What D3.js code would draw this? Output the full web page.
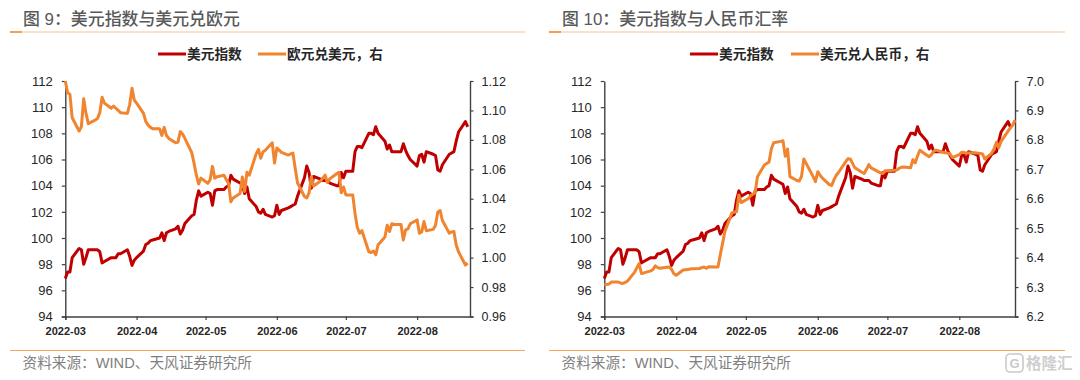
<!DOCTYPE html>
<html>
<head>
<meta charset="utf-8">
<script src="https://cdn.jsdelivr.net/npm/d3@7"></script>
<style>
  html, body { margin: 0; padding: 0; background: #fff; }
  svg { display: block; }
  text { font-family: "Liberation Sans", "Noto Sans CJK SC", sans-serif; }
</style>
</head>
<body>
<svg id="chart-area" width="1080" height="380"></svg>
<script>
// weekdays per month, chart data starts 2022-03-01
const marDays = ["03-01","03-02","03-03","03-04","03-07","03-08","03-09","03-10","03-11","03-14","03-15","03-16","03-17","03-18","03-21","03-22","03-23","03-24","03-25","03-28","03-29","03-30","03-31"]
const aprDays = ["04-01","04-04","04-05","04-06","04-07","04-08","04-11","04-12","04-13","04-14","04-15","04-18","04-19","04-20","04-21","04-22","04-25","04-26","04-27","04-28","04-29"]
const mayDays = ["05-02","05-03","05-04","05-05","05-06","05-09","05-10","05-11","05-12","05-13","05-16","05-17","05-18","05-19","05-20","05-23","05-24","05-25","05-26","05-27","05-30","05-31"]
const junDays = ["06-01","06-02","06-03","06-06","06-07","06-08","06-09","06-10","06-13","06-14","06-15","06-16","06-17","06-20","06-21","06-22","06-23","06-24","06-27","06-28","06-29","06-30"]
const julDays = ["07-01","07-04","07-05","07-06","07-07","07-08","07-11","07-12","07-13","07-14","07-15","07-18","07-19","07-20","07-21","07-22","07-25","07-26","07-27","07-28","07-29"]
const augDays = ["08-01","08-02","08-03","08-04","08-05","08-08","08-09","08-10","08-11","08-12","08-15","08-16","08-17","08-18","08-19","08-22","08-23","08-24","08-25"]
const tradeDays = [...marDays, ...aprDays, ...mayDays, ...junDays, ...julDays, ...augDays]

const dollarIndex = [
  96.9,97.4,97.4,98.5,99.2,99.1,98.0,98.5,99.1,99.1,99.1,98.95,98.1,98.2,98.5,98.5,98.5,98.8,98.8,99.1,98.6,97.9,98.3,
  98.5,99.0,99.5,99.6,99.8,99.85,100.0,100.4,99.8,100.4,100.5,100.7,100.9,100.3,100.6,101.1,101.7,101.8,102.9,103.6,103.2,
  103.5,103.4,102.5,103.6,103.7,103.7,103.9,104.0,104.8,104.5,104.2,104.1,103.4,103.9,103.0,102.4,102.0,101.9,102.2,101.8,101.6,101.7,
  102.5,101.8,102.1,102.3,102.4,102.5,102.6,103.2,104.6,105.5,105.0,103.8,104.7,104.5,104.4,104.4,104.4,104.2,104.0,104.0,105.0,104.6,
  105.1,105.1,106.6,107.0,107.0,106.9,108.0,108.0,107.9,108.5,108.0,107.4,106.8,107.1,106.6,106.6,106.6,107.2,106.7,106.3,106.0,
  105.5,106.3,106.4,105.8,106.6,106.4,106.3,105.2,105.1,105.6,106.4,106.5,106.6,107.4,108.1,108.9,108.5
]

const eurUsd = [
  1.12,1.112,1.111,1.095,1.086,1.089,1.108,1.098,1.091,1.0935,1.0945,1.0985,1.109,1.105,1.1015,1.103,1.1015,1.1,1.0985,1.098,1.104,1.115,1.107,
  1.105,1.098,1.0925,1.09,1.0885,1.0875,1.0875,1.083,1.0885,1.083,1.081,1.078,1.0785,1.0856,1.084,1.081,1.0713,1.064,1.056,1.05,1.054,
  1.0505,1.053,1.062,1.054,1.055,1.056,1.053,1.0505,1.038,1.0405,1.0435,1.0548,1.045,1.058,1.056,1.0705,1.0735,1.0675,1.072,1.073,1.078,1.0643,
  1.0745,1.073,1.0715,1.0697,1.0705,1.071,1.0605,1.0507,1.0415,1.0405,1.044,1.055,1.0487,1.052,1.054,1.056,1.051,1.0535,1.057,1.058,1.044,1.048,
  1.0426,1.0426,1.03,1.0205,1.0166,1.0183,1.004,1.0035,1.0045,1.0019,1.0086,1.014,1.022,1.0177,1.023,1.0225,1.0225,1.012,1.0188,1.0195,1.023,
  1.0256,1.0166,1.0175,1.0245,1.0183,1.0192,1.022,1.031,1.032,1.0252,1.0166,1.0175,1.0177,1.0086,1.004,0.995,0.9962
]

const usdCny = [
  6.309,6.309,6.31,6.317,6.317,6.314,6.312,6.316,6.32,6.35,6.365,6.38,6.346,6.348,6.355,6.36,6.372,6.366,6.364,6.367,6.368,6.36,6.345,
  6.34,6.358,6.359,6.36,6.361,6.362,6.363,6.366,6.368,6.364,6.369,6.368,6.368,6.41,6.45,6.49,6.552,6.555,6.556,6.613,6.587,
  6.6,6.61,6.615,6.62,6.675,6.715,6.72,6.725,6.77,6.79,6.795,6.797,6.744,6.769,6.675,6.662,6.66,6.676,6.735,6.72,6.675,6.658,
  6.692,6.68,6.67,6.648,6.645,6.665,6.68,6.69,6.725,6.736,6.735,6.72,6.705,6.69,6.686,6.7,6.716,6.705,6.692,6.688,6.686,6.695,
  6.695,6.697,6.698,6.703,6.707,6.708,6.705,6.733,6.722,6.745,6.765,6.748,6.743,6.75,6.762,6.765,6.758,6.756,6.755,6.752,6.74,
  6.75,6.758,6.757,6.755,6.755,6.756,6.755,6.754,6.752,6.735,6.755,6.77,6.792,6.773,6.795,6.83,6.84,6.85,6.867
]

const leftTicks = [94,96,98,100,102,104,106,108,110,112]
const eurTicks = [0.96,0.98,1.00,1.02,1.04,1.06,1.08,1.10,1.12]
const cnyTicks = [6.2,6.3,6.4,6.5,6.6,6.7,6.8,6.9,7.0]
const monthTicks = ["2022-03","2022-04","2022-05","2022-06","2022-07","2022-08"]

const parseDay = d3.utcParse("%Y-%m-%d")
const parseMonth = d3.utcParse("%Y-%m")
const red = "#C00000"
const orange = "#F0842F"

const svg = d3.select("#chart-area")

function drawPanel(p) {
    const g = svg.append("g").attr("transform", `translate(${p.offset},0)`)

    const xScale = d3.scaleUtc()
        .domain([parseDay("2022-03-01"), parseDay(p.lastDay)])
        .range([p.x0, p.x1])
    const yLeft = d3.scaleLinear().domain([94, 112]).range([316.5, 81])
    const yRight = d3.scaleLinear().domain(p.rightDomain).range([316.5, 81])

    // title and the two rules
    g.append("text").attr("x", 23).attr("y", 25)
        .attr("font-size", 16.9).attr("font-weight", 500).attr("fill", "#595959")
        .text(p.title)
    g.append("line").attr("x1", 10).attr("x2", p.ruleEnd).attr("y1", 32).attr("y2", 32)
        .attr("stroke", "#F9D9B8").attr("stroke-width", 1.5)
    g.append("line").attr("x1", 10).attr("x2", 22).attr("y1", 32).attr("y2", 32)
        .attr("stroke", "#F08A2C").attr("stroke-width", 1.5)
    g.append("line").attr("x1", 10).attr("x2", p.ruleEnd).attr("y1", 350.5).attr("y2", 350.5)
        .attr("stroke", "#F7A45C").attr("stroke-width", 1.2)
    g.append("text").attr("x", 22.5).attr("y", 367.5)
        .attr("font-size", 14.65).attr("fill", "#7F7F7F")
        .text("资料来源：WIND、天风证券研究所")

    // legend
    const legend = [
        { x: p.legendX, color: red, label: "美元指数" },
        { x: p.legendX + p.legendGap, color: orange, label: p.rightName }
    ]
    legend.forEach(l => {
        g.append("line").attr("x1", l.x).attr("x2", l.x + 28).attr("y1", 54).attr("y2", 54)
            .attr("stroke", l.color).attr("stroke-width", 3)
        g.append("text").attr("x", l.x + 29).attr("y", 59)
            .attr("font-size", 13.7).attr("font-weight", 700).attr("fill", "#262626")
            .text(l.label)
    })

    // axes
    const axisLeft = g.append("g").attr("transform", `translate(${p.x0},0)`)
        .call(d3.axisLeft(yLeft).tickValues(leftTicks).tickSize(3.5).tickPadding(9))
    const axisRight = g.append("g").attr("transform", `translate(${p.x1},0)`)
        .call(d3.axisRight(yRight).tickValues(p.rightTicks).tickSize(3.5).tickPadding(8)
            .tickFormat(d3.format(p.rightFormat)))
    const axisBottom = g.append("g").attr("transform", "translate(0,316.5)")
        .call(d3.axisBottom(xScale).tickValues(monthTicks.map(parseMonth))
            .tickSize(3.5).tickPadding(7).tickFormat(d3.utcFormat("%Y-%m")))
    ;[axisLeft, axisRight, axisBottom].forEach(a => {
        a.selectAll("path").attr("stroke", "#404040").attr("stroke-width", 1.4)
            .attr("d", function() { return this.getAttribute("d").replace(/[VH][^VHM]*$/, "") })
        a.selectAll("line").attr("stroke", "#404040").attr("stroke-width", 1.2)
        a.selectAll("text").attr("fill", "#262626").attr("font-size", 13)
            .attr("font-family", '"Liberation Sans", sans-serif')
    })
    axisRight.selectAll("text").attr("font-size", 12.5)
    axisBottom.selectAll("text").attr("font-size", 11).attr("font-weight", 700)

    // lines
    const line = yScale => d3.line()
        .x(d => xScale(parseDay("2022-" + d.day)))
        .y(d => yScale(d.value))
    const points = values => values.map((value, i) => ({ day: tradeDays[i], value }))

    g.append("path").datum(points(dollarIndex))
        .attr("d", line(yLeft))
        .attr("fill", "none").attr("stroke", red).attr("stroke-width", 3)
        .attr("stroke-linejoin", "round")
    g.append("path").datum(points(p.rightValues))
        .attr("d", line(yRight))
        .attr("fill", "none").attr("stroke", orange).attr("stroke-width", 3)
        .attr("stroke-linejoin", "round")
}

drawPanel({
    offset: 0, x0: 65.3, x1: 470, lastDay: "2022-08-24",
    title: "图 9：美元指数与美元兑欧元", ruleEnd: 525,
    legendX: 158, legendGap: 100, rightName: "欧元兑美元，右",
    rightDomain: [0.96, 1.12], rightTicks: eurTicks, rightFormat: ".2f", rightValues: eurUsd
})
drawPanel({
    offset: 539, x0: 65.3, x1: 476, lastDay: "2022-08-25",
    title: "图 10：美元指数与人民币汇率", ruleEnd: 526,
    legendX: 151, legendGap: 101, rightName: "美元兑人民币，右",
    rightDomain: [6.2, 7.0], rightTicks: cnyTicks, rightFormat: ".1f", rightValues: usdCny
})

// watermark, bottom right
const mark = svg.append("g")
mark.append("rect").attr("x", 1006).attr("y", 354).attr("width", 17).attr("height", 18).attr("rx", 4)
    .attr("fill", "none").attr("stroke", "#C9C9C9").attr("stroke-width", 1.6)
mark.append("text").attr("x", 1014.5).attr("y", 368).attr("text-anchor", "middle")
    .attr("font-size", 13).attr("font-weight", 700).attr("fill", "#C9C9C9").text("G")
mark.append("text").attr("x", 1026).attr("y", 369)
    .attr("font-size", 15.5).attr("font-weight", 700).attr("fill", "#CFCFCF").text("格隆汇")
</script>
</body>
</html>
